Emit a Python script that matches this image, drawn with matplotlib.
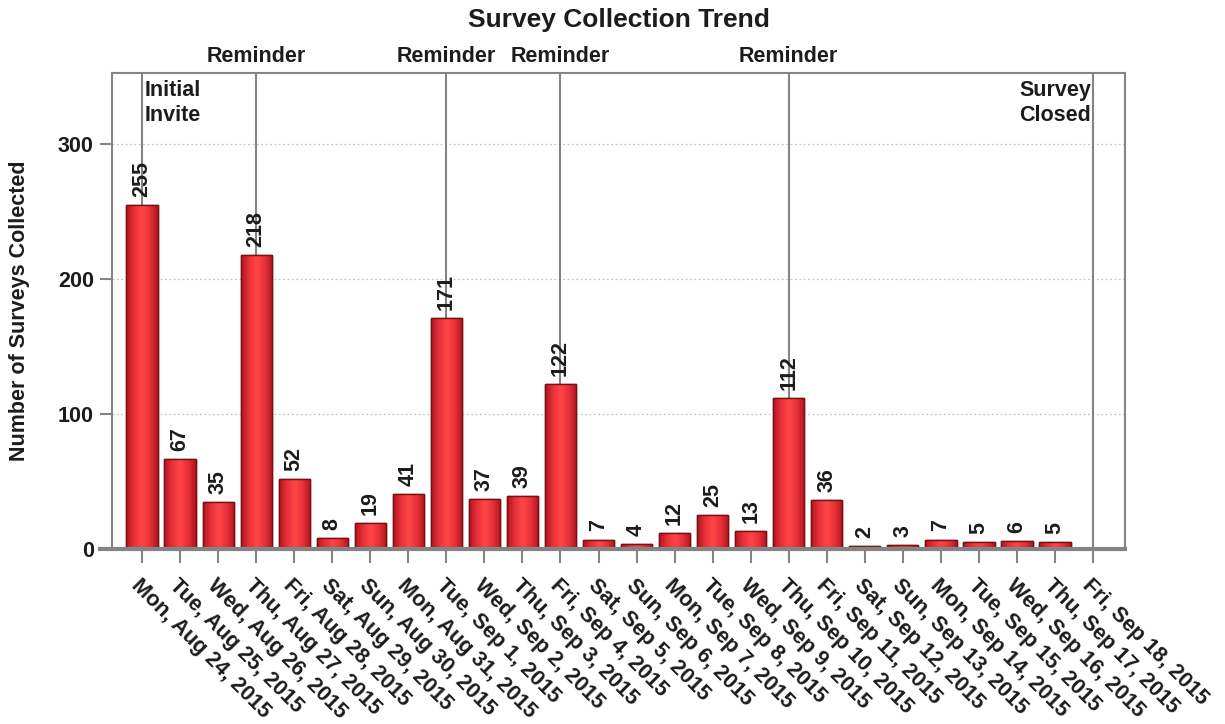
import numpy as np
import matplotlib.pyplot as plt
from matplotlib.colors import LinearSegmentedColormap

plt.rcParams['font.family'] = ['Liberation Sans', 'DejaVu Sans']
plt.rcParams['font.weight'] = 'bold'

days = ['Mon, Aug 24, 2015', 'Tue, Aug 25, 2015', 'Wed, Aug 26, 2015', 'Thu, Aug 27, 2015',
        'Fri, Aug 28, 2015', 'Sat, Aug 29, 2015', 'Sun, Aug 30, 2015', 'Mon, Aug 31, 2015',
        'Tue, Sep 1, 2015', 'Wed, Sep 2, 2015', 'Thu, Sep 3, 2015', 'Fri, Sep 4, 2015',
        'Sat, Sep 5, 2015', 'Sun, Sep 6, 2015', 'Mon, Sep 7, 2015', 'Tue, Sep 8, 2015',
        'Wed, Sep 9, 2015', 'Thu, Sep 10, 2015', 'Fri, Sep 11, 2015', 'Sat, Sep 12, 2015',
        'Sun, Sep 13, 2015', 'Mon, Sep 14, 2015', 'Tue, Sep 15, 2015', 'Wed, Sep 16, 2015',
        'Thu, Sep 17, 2015', 'Fri, Sep 18, 2015']
# last day has no submissions recorded
counts = [255, 67, 35, 218, 52, 8, 19, 41, 171, 37, 39, 122, 7, 4, 12, 25, 13,
          112, 36, 2, 3, 7, 5, 6, 5, None]

reminder_days = [3, 8, 11, 17]
invite_day = 0
closed_day = 25

grey = '#848484'
ink = '#1c1c1c'
bar_cmap = LinearSegmentedColormap.from_list(
    'cyl', ['#b0161e', '#e8303a', '#ff4646', '#e8303a', '#b0161e'])

fig = plt.figure(figsize=(12.25, 7.24), dpi=100)
ax = fig.add_axes([0.0914, 0.2417, 0.8270, 0.6575])

x = np.arange(len(days))
width = 0.82
grad = np.linspace(0, 1, 64).reshape(1, -1)
for i, v in enumerate(counts):
    if v is None:
        continue
    bar = ax.bar(i, v, width=width, color='#e8323a', edgecolor='#7a1016',
                 linewidth=1.0, zorder=3)[0]
    img = ax.imshow(grad, cmap=bar_cmap, aspect='auto', zorder=3.5,
                    extent=(i - width / 2, i + width / 2, 0, v))
    img.set_clip_path(bar)
    ax.bar(i, v, width=width, color='none', edgecolor='#7a1016',
           linewidth=1.0, zorder=4)
    ax.text(i, v + 6, str(v), rotation=90, ha='center', va='bottom',
            fontsize=15.5, fontweight='bold', color=ink, zorder=5)

ax.set_xlim(-0.79, 25.84)
ax.set_ylim(0, 353)

# event markers
for d in [invite_day] + reminder_days + [closed_day]:
    ax.axvline(d, color=grey, lw=1.5, zorder=2)
for d in reminder_days:
    ax.text(d, 1.013, 'Reminder', transform=ax.get_xaxis_transform(),
            ha='center', va='bottom', fontsize=15.5, fontweight='bold', color=ink)
ax.text(invite_day + 0.07, 0.986, 'Initial\nInvite', transform=ax.get_xaxis_transform(),
        ha='left', va='top', fontsize=15.5, fontweight='bold', color=ink,
        linespacing=1.3)
ax.text(closed_day - 0.05, 0.986, 'Survey\nClosed', transform=ax.get_xaxis_transform(),
        ha='right', va='top', fontsize=15.5, fontweight='bold', color=ink,
        linespacing=1.3, multialignment='right')

ax.set_yticks([0, 100, 200, 300])
ax.yaxis.grid(True, linestyle=(0, (1.5, 2)), color='#c4c4c4', lw=0.9, zorder=0)
ax.set_axisbelow(True)
ax.set_xticks(x)
ax.set_xticklabels(days, rotation=-45, ha='left', rotation_mode='anchor',
                   fontsize=15.5, fontweight='bold', color=ink)
ax.tick_params(axis='x', length=10, width=1.5, color=grey, pad=9)
ax.tick_params(axis='y', length=9, width=1.5, color=grey, labelsize=15.5,
               labelcolor=ink, pad=4)

for s in ax.spines.values():
    s.set_color(grey)
    s.set_linewidth(1.5)
ax.spines['bottom'].set_linewidth(3)
ax.spines['bottom'].set_bounds(-1.1, 25.84)
ax.spines['bottom'].set_zorder(6)

ax.set_ylabel('Number of Surveys Collected', fontsize=15.5, fontweight='bold',
              color=ink, labelpad=20)
ax.set_title('Survey Collection Trend', fontsize=19, fontweight='bold',
             color=ink, pad=33)

fig.savefig('out.png', dpi=100)
